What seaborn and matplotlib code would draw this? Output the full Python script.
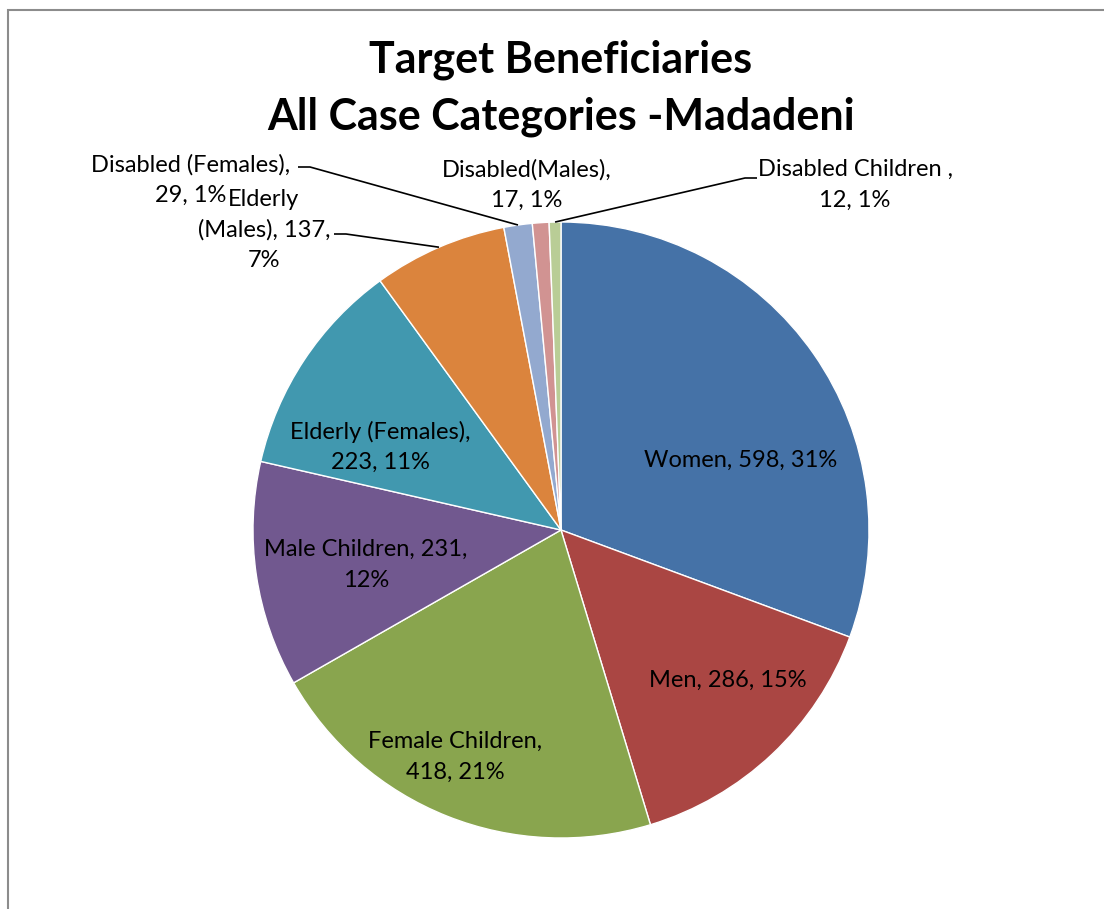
import matplotlib
matplotlib.use("Agg")
import matplotlib.pyplot as plt
import matplotlib.patches as mpatches
import numpy as np
import seaborn as sns

# Case categories and beneficiary counts (pie runs clockwise from 12 o'clock)
categories = [
    "Women", "Men", "Female Children", "Male Children", "Elderly (Females)",
    "Elderly (Males)", "Disabled (Females)", "Disabled(Males)", "Disabled Children ",
]
counts = [598, 286, 418, 231, 223, 137, 29, 17, 12]
colors = ["#4572A7", "#AA4643", "#89A54E", "#71588F", "#4198AF",
          "#DB843D", "#93A9CF", "#D19392", "#B9CD96"]

# How each data label is wrapped
label_formats = [
    "{c}, {v}, {p}%",
    "{c}, {v}, {p}%",
    "{c},\n{v}, {p}%",
    "{c}, {v},\n{p}%",
    "{c},\n{v}, {p}%",
    "Elderly\n(Males), {v},\n{p}%",
    "{c},\n{v}, {p}%",
    "{c},\n{v}, {p}%",
    "{c},\n{v}, {p}%",
]

sns.set_theme(style="white")
plt.rcParams["font.family"] = ["Lato", "DejaVu Sans"]

W, H = 1104, 909
CX, CY, R = 561, 530, 308  # pie centre and radius in pixels

fig = plt.figure(figsize=(W / 100, H / 100), dpi=100)
ax = fig.add_axes([0, 0, 1, 1])


def px(x, y):
    """Pixel position -> data coordinates of the pie axes."""
    return (x - CX) / R, (CY - y) / R


wedges, _ = ax.pie(
    counts, colors=colors, startangle=90, counterclock=False, radius=1,
    center=(0, 0), frame=True,
    wedgeprops=dict(edgecolor="white", linewidth=1.0),
)
ax.set_xlim(-CX / R, (W - CX) / R)
ax.set_ylim((CY - H) / R, CY / R)
ax.set_aspect("auto")
ax.axis("off")

total = sum(counts)
labels = [
    fmt.format(c=c, v=v, p=round(100 * v / total))
    for fmt, c, v in zip(label_formats, categories, counts)
]

# Label anchor points (pixels) for each slice
label_pos = [
    (741, 460), (728, 680), (455, 757), (366, 565), (380, 447),
    (264, 230), (191, 180), (527, 185), (855, 185),
]

for lab, (x, y) in zip(labels, label_pos):
    ax.text(*px(x, y), lab, ha="center", va="center", fontsize=17,
            color="black", linespacing=1.55)


def slice_point(i, r=1.0):
    start = sum(counts[:i])
    mid = start + counts[i] / 2
    ang = np.deg2rad(90 - 360 * mid / total)
    return r * np.cos(ang), r * np.sin(ang)


# Leader lines from outside labels to their slices
leaders = {
    5: [(334, 234), (346, 234)],
    6: [(298, 167), (310, 167)],
    8: [(757, 178), (745, 178)],
}
for i, pts in leaders.items():
    xs = [px(*p)[0] for p in pts]
    ys = [px(*p)[1] for p in pts]
    sx, sy = slice_point(i)
    xs.append(sx)
    ys.append(sy)
    ax.plot(xs, ys, color="black", linewidth=1.2, solid_capstyle="butt")

# Title
fig.text(CX / W, 1 - 60 / H, "Target Beneficiaries", ha="center", va="center",
         fontsize=31, fontweight="bold", color="black")
fig.text(CX / W, 1 - 117 / H, "All Case Categories -Madadeni", ha="center",
         va="center", fontsize=31, fontweight="bold", color="black")

# Chart-area border (left and top edges visible)
fig.patches.append(mpatches.Rectangle(
    (7.5 / W, -0.1), 1.2, 1.1 - 9.5 / H, transform=fig.transFigure,
    fill=False, edgecolor="#8c8c8c", linewidth=1.5))

fig.savefig("out.png", dpi=100, facecolor="white")
